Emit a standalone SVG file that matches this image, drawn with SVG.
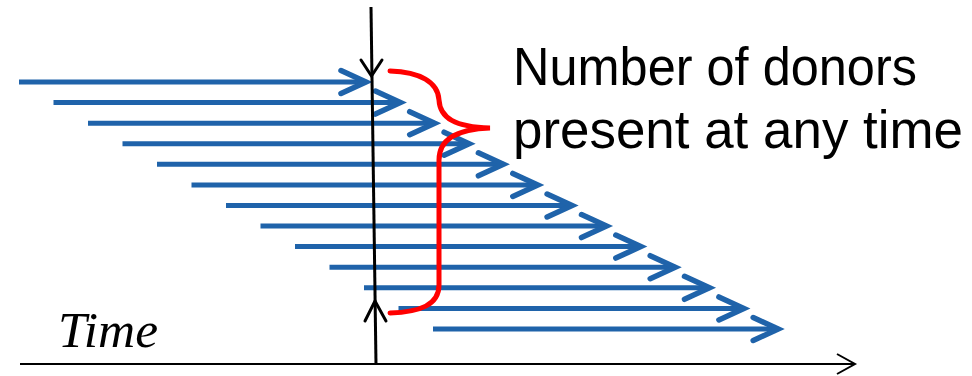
<svg xmlns="http://www.w3.org/2000/svg" width="972" height="376" viewBox="0 0 972 376">
  <style>
    .shaft { stroke: #1F63AA; stroke-width: 5; fill: none; }
    .head { stroke: #1F63AA; stroke-width: 5.5; fill: none; stroke-linecap: round; stroke-linejoin: miter; }
    .black { stroke: #000; fill: none; }
    .brace { stroke: #FF0000; stroke-width: 5; fill: none; stroke-linecap: round; }
    .label { font-family: "Liberation Sans", Arial, sans-serif; font-size: 53px; fill: #000; }
    .time { font-family: "Liberation Serif", "Times New Roman", serif; font-style: italic; font-size: 50px; fill: #000; }
  </style>
  <defs>
    <path id="hd" class="head" d="M-25,-11.5 L0,0 L-25,11.5"/>
  </defs>

  <g id="donors">
    <g id="d1"><line class="shaft" x1="19" y1="82" x2="366" y2="82"/><use href="#hd" x="366" y="82"/></g>
    <g id="d2"><line class="shaft" x1="53.5" y1="102.6" x2="400.4" y2="102.6"/><use href="#hd" x="400.4" y="102.6"/></g>
    <g id="d3"><line class="shaft" x1="88" y1="123.2" x2="434.7" y2="123.2"/><use href="#hd" x="434.7" y="123.2"/></g>
    <g id="d4"><line class="shaft" x1="122.5" y1="143.7" x2="469.1" y2="143.7"/><use href="#hd" x="469.1" y="143.7"/></g>
    <g id="d5"><line class="shaft" x1="157" y1="164.3" x2="503.4" y2="164.3"/><use href="#hd" x="503.4" y="164.3"/></g>
    <g id="d6"><line class="shaft" x1="191.5" y1="184.9" x2="537.8" y2="184.9"/><use href="#hd" x="537.8" y="184.9"/></g>
    <g id="d7"><line class="shaft" x1="226" y1="205.5" x2="572.1" y2="205.5"/><use href="#hd" x="572.1" y="205.5"/></g>
    <g id="d8"><line class="shaft" x1="260.5" y1="226.1" x2="606.5" y2="226.1"/><use href="#hd" x="606.5" y="226.1"/></g>
    <g id="d9"><line class="shaft" x1="295" y1="246.6" x2="640.8" y2="246.6"/><use href="#hd" x="640.8" y="246.6"/></g>
    <g id="d10"><line class="shaft" x1="329.5" y1="267.2" x2="675.2" y2="267.2"/><use href="#hd" x="675.2" y="267.2"/></g>
    <g id="d11"><line class="shaft" x1="364" y1="287.8" x2="709.5" y2="287.8"/><use href="#hd" x="709.5" y="287.8"/></g>
    <g id="d12"><line class="shaft" x1="398.5" y1="308.4" x2="743.9" y2="308.4"/><use href="#hd" x="743.9" y="308.4"/></g>
    <g id="d13"><line class="shaft" x1="433" y1="329" x2="778.2" y2="329"/><use href="#hd" x="778.2" y="329"/></g>
  </g>

  <g id="axis">
    <line class="black" x1="20" y1="364" x2="855" y2="364" stroke-width="2"/>
    <polyline class="black" points="837,354 855,364 837,374" stroke-width="2"/>
    <text class="time" x="58" y="347" textLength="100" lengthAdjust="spacingAndGlyphs">Time</text>
  </g>

  <g id="now-line">
    <line class="black" x1="371" y1="7" x2="376" y2="364" stroke-width="3"/>
    <polyline class="black" points="361,60 371.5,76 382,60" stroke-width="3" stroke-linecap="round"/>
    <polyline class="black" points="365,321 375,301 386,321" stroke-width="3" stroke-linecap="round"/>
  </g>

  <g id="brace">
    <path class="brace" d="M390,71 C420,72 438,82 439,100 C440,118 455,127 490,128 C460,129 439,138 439,160 L439,285 C439,305 420,312 390,313"/>
  </g>

  <g id="label">
    <text class="label" x="513" y="85" textLength="404" lengthAdjust="spacingAndGlyphs">Number of donors</text>
    <text class="label" x="513" y="148" textLength="450" lengthAdjust="spacingAndGlyphs">present at any time</text>
  </g>
</svg>
